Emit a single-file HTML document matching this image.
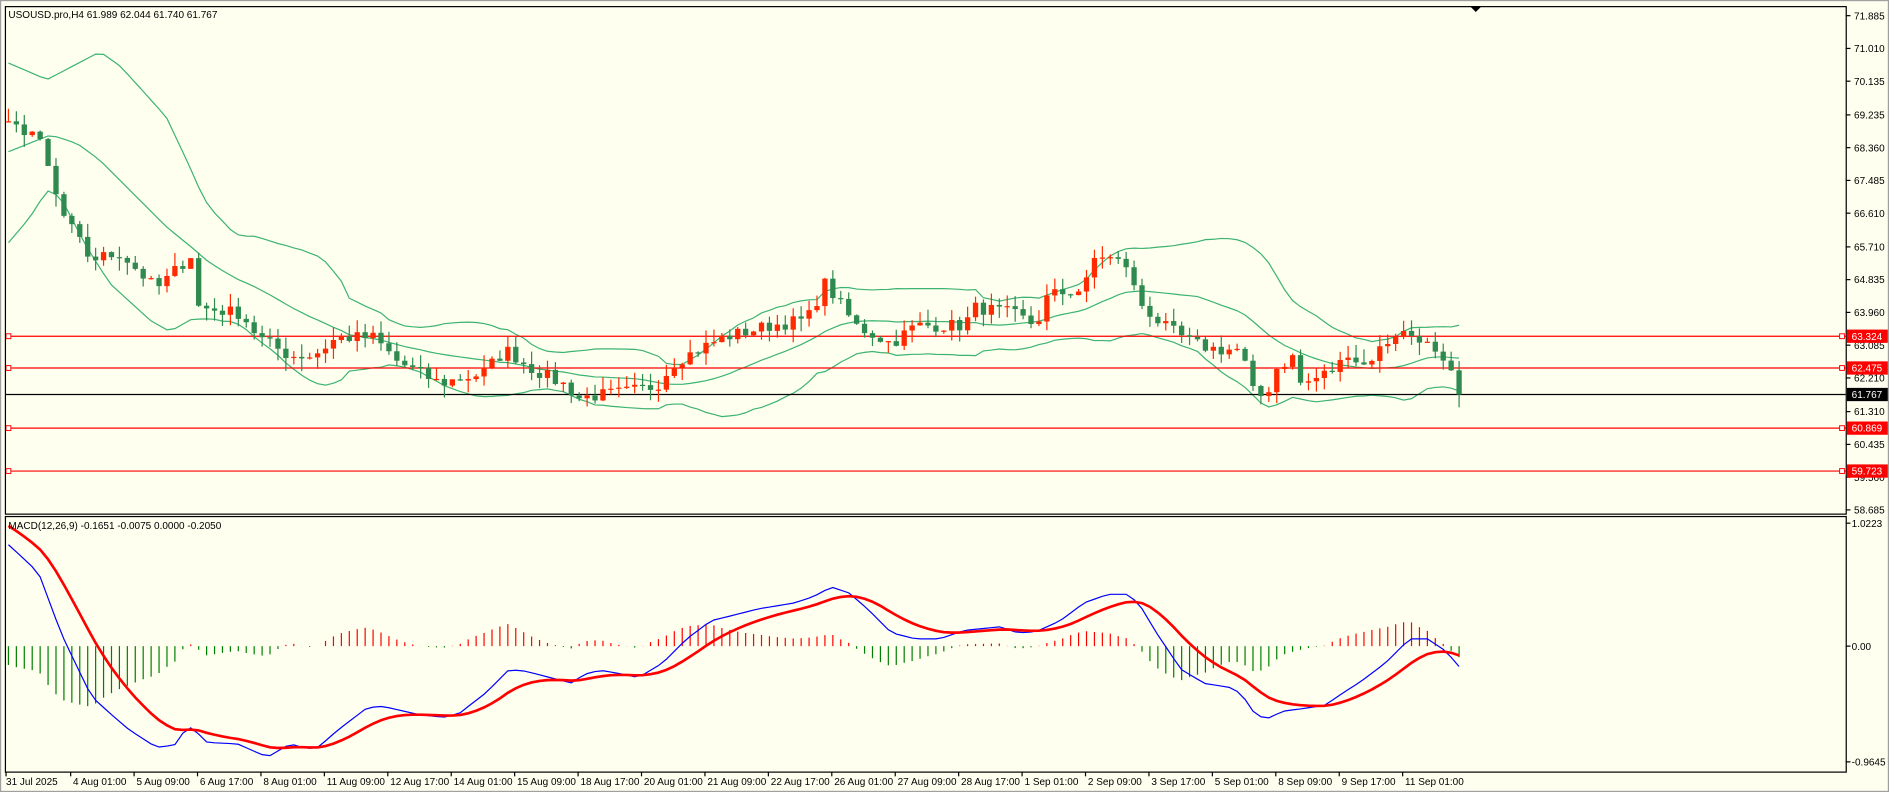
<!DOCTYPE html>
<html><head><meta charset="utf-8"><style>
html,body{margin:0;padding:0;background:#fffff0;}
svg{display:block;}
text{font-family:"Liberation Sans",sans-serif;font-size:8.3px;fill:#000;}
</style></head><body>
<svg id="s" width="1889" height="792" viewBox="0 0 1568 657" preserveAspectRatio="none"></svg>
<script>
const S=document.getElementById('s');let out='';
const add=s=>out+=s;
const Y=p=>13+(71.885-p)*31.06;
const MY=v=>536-v*99.8;
add('<rect x="0" y="0" width="1568" height="657" fill="#fffff0"/>');
add('<rect x="0.5" y="0.5" width="1567" height="656" fill="none" stroke="#a0a0a0"/>');
add('<rect x="4.5" y="5.5" width="1528" height="421" fill="none" stroke="#000"/>');
add('<rect x="4.5" y="428.5" width="1528" height="212" fill="none" stroke="#000"/>');
[71.885,71.010,70.135,69.235,68.360,67.485,66.610,65.710,64.835,63.960,63.085,62.210,61.310,60.435,59.560,58.685].forEach(p=>{const y=Y(p);add(`<line x1="1532" x2="1536" y1="${y}" y2="${y}" stroke="#000"/><text x="1539" y="${y+3}">${p.toFixed(3)}</text>`);});
const kp=[[6,105],[30,110],[40,140],[50,175],[75,215],[100,210],[130,240],[160,210],[165,255],[200,260],[215,280],[240,295],[260,295],[280,280],[310,280],[330,300],[365,318],[400,310],[420,290],[440,305],[470,320],[480,330],[520,325],[545,320],[560,300],[600,280],[640,270],[670,265],[685,235],[710,270],[740,285],[760,270],[800,270],[810,255],[840,260],[860,270],[870,245],[900,240],[910,210],[935,220],[945,250],[965,270],[990,285],[1010,290],[1030,290],[1040,325],[1050,330],[1060,305],[1075,295],[1080,320],[1110,305],[1120,290],[1130,305],[1145,290],[1160,275],[1180,280],[1195,300],[1213,322]];
function interp(k,x){if(x<=k[0][0])return k[0][1];for(let i=1;i<k.length;i++){if(x<=k[i][0]){const a=k[i-1],b=k[i];return a[1]+(b[1]-a[1])*(x-a[0])/(b[0]-a[0]);}}return k[k.length-1][1];}
let seed=7;const rnd=()=>{seed=(seed*16807)%2147483647;return seed/2147483647;};
const N=184,dx=6.58,X=i=>7+i*dx;
const P=y=>71.885-(y-13)/31.06;
let warm=[];for(let i=0;i<20;i++)warm.push(70.6-i*0.08+(rnd()-0.5)*1.0);
let closes=[];for(let i=0;i<N;i++){closes.push(P(interp(kp,X(i)))+(rnd()-0.5)*0.35);}
closes[N-1]=61.767;
const all=warm.concat(closes);
let up=[],mid=[],lo=[];
for(let i=0;i<N;i++){const j=i+20;const w=all.slice(j-19,j+1);const m=w.reduce((a,b)=>a+b)/20;const sd=Math.sqrt(w.reduce((a,b)=>a+(b-m)*(b-m),0)/20);mid.push(Y(m));up.push(Y(m+2*sd));lo.push(Y(m-2*sd));}
// hand-drawn start of bands, blended
const hu=[[4,51],[39,66],[83,43],[100,55],[138,97],[169,163],[196,188]];
const hm=[[4,127],[42,112],[64,119],[83,133],[138,188],[172,216],[221,243]];
const hl=[[4,205],[25,180],[39,158],[50,163],[72,205],[91,235],[125,266],[141,275],[160,264],[194,274]];
for(let i=0;i<N;i++){const x=X(i);let w=x<150?1:(x<200?(200-x)/50:0);if(w>0){up[i]=w*interp(hu,x)+(1-w)*up[i];mid[i]=w*interp(hm,x)+(1-w)*mid[i];lo[i]=w*interp(hl,x)+(1-w)*lo[i];}}
const pl=(arr,f)=>arr.map((v,i)=>`${X(i).toFixed(1)},${f(v).toFixed(1)}`).join(' ');
const id=v=>v;
add(`<g clip-path="url(#c1)"><clipPath id="c1"><rect x="5" y="6" width="1527" height="420"/></clipPath>`);
[up,mid,lo].forEach(a=>add(`<polyline points="${pl(a,id)}" fill="none" stroke="#3cb371" stroke-width="1"/>`));
[63.324,62.475,60.869,59.723].forEach(p=>add(`<line x1="5" x2="1532" y1="${Y(p)}" y2="${Y(p)}" stroke="#f00"/><rect x="5" y="${Y(p)-2}" width="4" height="4" fill="#fff" stroke="#f00" stroke-width="0.8"/><rect x="1527" y="${Y(p)-2}" width="4" height="4" fill="#fff" stroke="#f00" stroke-width="0.8"/>`));
add(`<line x1="5" x2="1532" y1="${Y(61.767)}" y2="${Y(61.767)}" stroke="#000"/>`);
let prev=all[19];
for(let i=0;i<N;i++){const o=prev,c=closes[i];const h=Math.max(o,c)+rnd()*0.35,l=Math.min(o,c)-rnd()*0.35;const col=c>=o?'#ff2a00':'#2e8a4e';const x=X(i);
add(`<line x1="${x}" x2="${x}" y1="${Y(h)}" y2="${Y(l)}" stroke="${col}" stroke-width="1"/>`);
const t=Math.min(Y(o),Y(c)),hh=Math.max(1,Math.abs(Y(o)-Y(c)));add(`<rect x="${x-2.2}" y="${t}" width="4.4" height="${hh}" fill="${col}"/>`);prev=c;}
add('</g>');
[[63.324,'#f00'],[62.475,'#f00'],[61.767,'#000'],[60.869,'#f00'],[59.723,'#f00']].forEach(([p,c])=>{const y=Y(p);add(`<rect x="1533" y="${y-5.5}" width="34" height="11" fill="${c}"/><text x="1537" y="${y+3}" style="fill:#fff">${p.toFixed(3)}</text>`);});
add('<polygon points="1220,5 1230,5 1225,10" fill="#000"/>');
add('<text x="7" y="15">USOUSD.pro,H4  61.989 62.044 61.740 61.767</text>');
const bk=[[5,450],[32,475],[51,526],[76,578],[95,595],[108,606],[130,620],[145,618],[156,602],[165,609],[172,616],[197,617],[222,628],[241,617],[254,621],[264,620],[280,606],[305,587],[318,586],[349,593],[368,595],[381,592],[403,575],[422,556],[432,556],[445,559],[464,564],[476,567],[483,560],[498,556],[510,558],[530,562],[550,550],[570,530],[590,515],[610,510],[630,505],[660,500],[675,495],[690,487],[705,492],[720,505],[740,525],[760,530],[780,530],[800,523],[830,520],[845,525],[860,524],[880,515],[900,500],[920,493],[935,493],[945,500],[960,525],[980,555],[1000,567],[1020,570],[1030,575],[1040,590],[1050,597],[1065,590],[1080,588],[1100,585],[1110,578],[1130,565],[1150,550],[1170,530],[1185,530],[1200,540],[1213,555]];
let blue=[],red=[];let r=1.0;const a=2/10;
for(let i=0;i<N;i++){const v=(536-interp(bk,X(i)))/99.8;blue.push(v);r=i==0?1.0:r+a*(v-r);red.push(r);}
add(`<g clip-path="url(#c2)"><clipPath id="c2"><rect x="5" y="429" width="1527" height="211"/></clipPath>`);
for(let i=0;i<N;i++){const h=blue[i]-red[i];add(`<line x1="${X(i)}" x2="${X(i)}" y1="${MY(0)}" y2="${MY(h)}" stroke="${h>=0?'#f00':'#008000'}" stroke-width="1"/>`);}
add(`<polyline points="${pl(blue,MY)}" fill="none" stroke="#0000ff" stroke-width="1"/>`);
add(`<polyline points="${pl(red,MY)}" fill="none" stroke="#ff0000" stroke-width="2.2"/>`);
add('</g>');
add('<text x="7" y="439">MACD(12,26,9) -0.1651 -0.0075 0.0000 -0.2050</text>');
[[1.0223,434],[0,536],[-0.9645,632]].forEach(([v,y])=>add(`<line x1="1532" x2="1536" y1="${y}" y2="${y}" stroke="#000"/><text x="1537" y="${y+3}">${v==0?'0.00':v.toFixed(4)}</text>`));
const tl=["31 Jul 2025","4 Aug 01:00","5 Aug 09:00","6 Aug 17:00","8 Aug 01:00","11 Aug 09:00","12 Aug 17:00","14 Aug 01:00","15 Aug 09:00","18 Aug 17:00","20 Aug 01:00","21 Aug 09:00","22 Aug 17:00","26 Aug 01:00","27 Aug 09:00","28 Aug 17:00","1 Sep 01:00","2 Sep 09:00","3 Sep 17:00","5 Sep 01:00","8 Sep 09:00","9 Sep 17:00","11 Sep 01:00"];
tl.forEach((t,i)=>{const x=i==0?5:5+i*52.65+1;add(`<line x1="${x}" x2="${x}" y1="640" y2="644" stroke="#000"/><text x="${x+(i==0?0:2)}" y="651">${t}</text>`);});
S.innerHTML=out;
</script>
</body></html>
